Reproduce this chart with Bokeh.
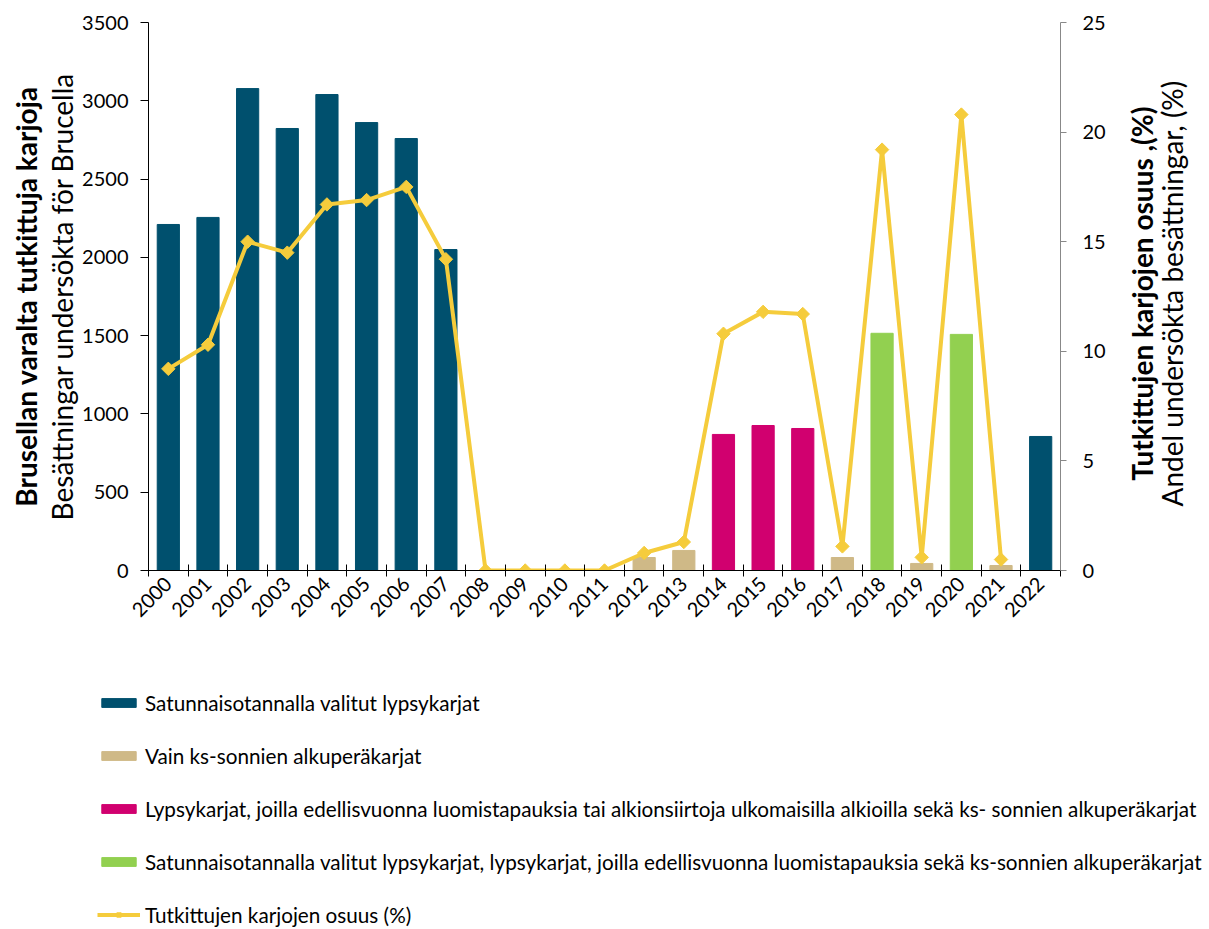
import math
from bokeh.plotting import figure
from bokeh.models import (Range1d, LinearAxis, FixedTicker, Legend, LegendItem)
from bokeh.embed import file_html
from bokeh.resources import INLINE

# ---------------- data ----------------
years = [str(y) for y in range(2000, 2023)]
random_sample_herds = [2210, 2255, 3078, 2823, 3040, 2861, 2759, 2050,
                       None, None, None, None, None, None, None, None,
                       None, None, None, None, None, None, 856]
bull_origin_herds = [None] * 12 + [83, 128, None, None, None, 83, None, 45,
                                   None, 32, None]
risk_herds = [None] * 14 + [869, 926, 907] + [None] * 6
combined_herds = [None] * 18 + [1515, None, 1508, None, None]
share_pct = [9.2, 10.3, 15.0, 14.5, 16.7, 16.9, 17.5, 14.2, 0, 0, 0, 0,
             0.8, 1.3, 10.8, 11.8, 11.7, 1.1, 19.2, 0.6, 20.8, 0.5, None]
left_ticks = [0, 500, 1000, 1500, 2000, 2500, 3000, 3500]
right_ticks = [0, 5, 10, 15, 20, 25]

series_labels = [
    "Satunnaisotannalla valitut lypsykarjat",
    "Vain ks-sonnien alkuperäkarjat",
    "Lypsykarjat, joilla edellisvuonna luomistapauksia tai alkionsiirtoja ulkomaisilla alkioilla sekä ks- sonnien alkuperäkarjat",
    "Satunnaisotannalla valitut lypsykarjat, lypsykarjat, joilla edellisvuonna luomistapauksia sekä ks-sonnien alkuperäkarjat",
]
line_label = "Tutkittujen karjojen osuus (%)"
left_title_bold = "Brusellan varalta tutkittuja karjoja"
left_title = "Besättningar undersökta för Brucella"
right_title_bold = "Tutkittujen karjojen osuus ,(%)"
right_title = "Andel undersökta besättningar, (%)"

colors = ["#00506E", "#CFB987", "#D1006F", "#92D050"]
line_color = "#F5CC3C"
FONT = "Lato"
TICK_SIZE = "20px"
TITLE_SIZE = "28px"

# where the rotated right-hand titles start (in % axis units, layout only)
right_bold_start = 4.1
right_norm_start = 2.92

x_pos = [i + 0.5 for i in range(len(years))]


def subset(vals):
    xs = [x_pos[i] for i, v in enumerate(vals) if v is not None]
    ys = [v for v in vals if v is not None]
    return xs, ys


bar_series = [random_sample_herds, bull_origin_herds, risk_herds, combined_herds]

# ---------------- main chart ----------------
p = figure(width=1209, height=630, x_range=Range1d(0, len(years)),
           y_range=Range1d(left_ticks[0], left_ticks[-1]),
           output_backend="svg", toolbar_location=None,
           min_border_left=148, min_border_right=147,
           min_border_top=22, min_border_bottom=60)
p.outline_line_color = None
p.xgrid.visible = False
p.ygrid.visible = False
p.extra_y_ranges = {"pct": Range1d(right_ticks[0], right_ticks[-1])}

for vals, col in zip(bar_series, colors):
    xs, ys = subset(vals)
    p.vbar(x=xs, top=ys, width=0.56, fill_color=col, line_color=col)

lx, ly = subset(share_pct)
p.line(lx, ly, y_range_name="pct", line_color=line_color, line_width=4)
p.scatter(lx, ly, y_range_name="pct", marker="square", angle=math.pi / 4,
          size=9.5, fill_color=line_color, line_color=line_color)

# x axis
xa = p.xaxis[0]
xa.ticker = FixedTicker(ticks=x_pos, minor_ticks=list(range(len(years) + 1)))
xa.major_label_overrides = {x: y for x, y in zip(x_pos, years)}
xa.major_label_orientation = math.pi / 4
xa.major_tick_in = 0
xa.major_tick_out = 0
xa.minor_tick_in = 6
xa.minor_tick_out = 6
xa.minor_tick_line_color = "#000000"
xa.axis_line_color = "#000000"
xa.major_label_text_font = FONT
xa.major_label_text_font_size = TICK_SIZE
xa.major_label_text_color = "#000000"
xa.major_label_standoff = 4

# left axis (+ titles)
ya = p.yaxis[0]
ya.ticker = FixedTicker(ticks=left_ticks)
ya.major_tick_out = 8
ya.major_tick_in = 0
ya.minor_tick_line_color = None
ya.axis_line_color = "#000000"
ya.major_tick_line_color = "#000000"
ya.major_label_text_font = FONT
ya.major_label_text_font_size = TICK_SIZE
ya.major_label_text_color = "#000000"
ya.major_label_standoff = 12
ya.axis_label = left_title
ya.axis_label_text_font = FONT
ya.axis_label_text_font_size = TITLE_SIZE
ya.axis_label_text_font_style = "normal"
ya.axis_label_text_color = "#000000"
ya.axis_label_standoff = 0

ya2 = LinearAxis(ticker=FixedTicker(ticks=[]), axis_line_color=None,
                 major_tick_line_color=None, minor_tick_line_color=None,
                 axis_label=left_title_bold, axis_label_text_font=FONT,
                 axis_label_text_font_size=TITLE_SIZE,
                 axis_label_text_font_style="bold",
                 axis_label_text_color="#000000", axis_label_standoff=0)
p.add_layout(ya2, "left")

# right axis
ra = LinearAxis(y_range_name="pct", ticker=FixedTicker(ticks=right_ticks))
ra.major_tick_out = 6
ra.major_tick_in = 0
ra.minor_tick_line_color = None
ra.axis_line_color = "#888888"
ra.major_tick_line_color = "#888888"
ra.major_label_text_font = FONT
ra.major_label_text_font_size = TICK_SIZE
ra.major_label_text_color = "#000000"
ra.major_label_standoff = 16
p.add_layout(ra, "right")

# right titles (reading bottom-to-top), drawn as rotated axis labels
for txt, start, bold, standoff in [(right_title_bold, right_bold_start, True, 34),
                                   (right_title, right_norm_start, False, -7)]:
    ax = LinearAxis(y_range_name="pct", ticker=FixedTicker(ticks=[start]),
                    major_label_overrides={start: txt},
                    major_label_orientation=math.pi / 2,
                    axis_line_color=None, major_tick_line_color=None,
                    minor_tick_line_color=None, major_tick_out=0,
                    major_tick_in=0, major_label_standoff=standoff,
                    major_label_text_font=FONT,
                    major_label_text_font_size=TITLE_SIZE,
                    major_label_text_font_style="bold" if bold else "normal",
                    major_label_text_color="#000000")
    p.add_layout(ax, "right")

# ---------------- legend (own canvas below the chart) ----------------
# the glyphs here only feed the legend swatches; the ranges keep them off-canvas
lg = figure(width=1209, height=298, x_range=Range1d(-2, -1),
            y_range=Range1d(-2, -1), x_axis_type=None, y_axis_type=None,
            output_backend="svg", toolbar_location=None, min_border=0)
lg.outline_line_color = None

items = []
for vals, col, lab in zip(bar_series, colors, series_labels):
    xs, ys = subset(vals)
    r = lg.vbar(x=xs, top=ys, width=0.56, fill_color=col, line_color=col)
    items.append(LegendItem(label=lab, renderers=[r]))
lr = lg.line(lx, ly, line_color=line_color, line_width=4)
sr = lg.scatter(lx, ly, marker="square", angle=math.pi / 4, size=7,
                fill_color=line_color, line_color=line_color)
items.append(LegendItem(label=line_label, renderers=[lr, sr]))

legend = Legend(items=items, location=(97, 1), orientation="vertical",
                padding=0, margin=0, border_line_color=None,
                background_fill_alpha=0, glyph_width=43, glyph_height=11,
                label_height=25, spacing=28, label_standoff=5,
                label_text_font=FONT, label_text_font_size="20.7px",
                label_text_color="#000000")
lg.add_layout(legend, "center")

open("out.html", "w").write(file_html([p, lg], INLINE))
